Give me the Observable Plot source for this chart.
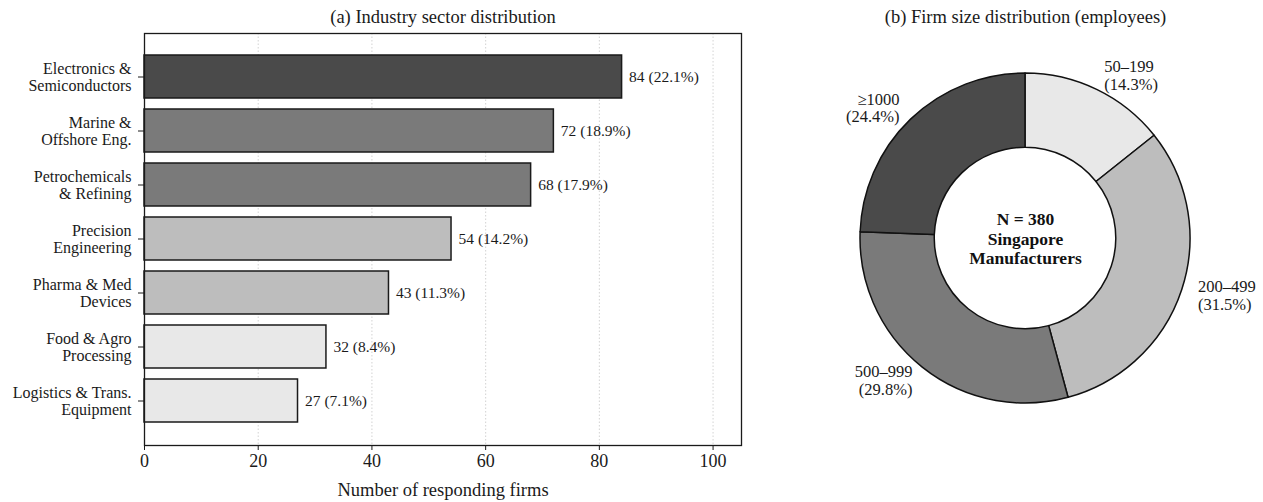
<!DOCTYPE html>
<html>
<head>
<meta charset="utf-8">
<script src="https://cdn.jsdelivr.net/npm/d3@7"></script>
<script src="https://cdn.jsdelivr.net/npm/@observablehq/plot@0.6"></script>
<style>
  body { margin: 0; background: #fff; }
  #chart { display: flex; width: 1263px; height: 502px; font-family: "Liberation Serif", serif; }
</style>
</head>
<body>
<div id="chart"></div>
<script>
// Survey respondents by industry sector
const sectors = [
  "Electronics &\nSemiconductors",
  "Marine &\nOffshore Eng.",
  "Petrochemicals\n& Refining",
  "Precision\nEngineering",
  "Pharma & Med\nDevices",
  "Food & Agro\nProcessing",
  "Logistics & Trans.\nEquipment"
];
const sectorCounts = [84, 72, 68, 54, 43, 32, 27];
const totalFirms = 380;
const xTicks = [0, 20, 40, 60, 80, 100];

// Respondents by firm size (share of firms, %)
const sizeBands = ["50–199", "200–499", "500–999", "≥1000"];
const sizeShares = [14.3, 31.5, 29.8, 24.4];

// Grey shades
const sectorFills = ["#4a4a4a", "#7a7a7a", "#7a7a7a", "#bdbdbd", "#bdbdbd", "#e8e8e8", "#e8e8e8"];
const sizeFills = ["#e8e8e8", "#bdbdbd", "#7a7a7a", "#4a4a4a"];

const serif = '"Liberation Serif", "Times New Roman", serif';

// ---- (a) horizontal bars ----
const sectorRows = sectors.map((s, i) => ({
  sector: s,
  count: sectorCounts[i],
  fill: sectorFills[i],
  label: `${sectorCounts[i]} (${(sectorCounts[i] / totalFirms * 100).toFixed(1)}%)`
}));

const barChart = Plot.plot({
  width: 780,
  height: 502,
  marginLeft: 144,
  marginRight: 39,
  marginTop: 33,
  marginBottom: 57,
  style: { fontFamily: serif, fontSize: "15px", color: "#1a1a1a", background: "#fff" },
  x: { domain: [0, 105] },
  y: { domain: sectors, paddingInner: 0.2, paddingOuter: 0.35 },
  color: { type: "identity" },
  marks: [
    Plot.gridX(xTicks.filter(t => t > 0), { stroke: "#c8c8c8", strokeOpacity: 1, strokeWidth: 0.8, strokeDasharray: "1.5,2" }),
    Plot.barX(sectorRows, { x: "count", y: "sector", fill: "fill", stroke: "#1a1a1a", strokeWidth: 1.5 }),
    Plot.text(sectorRows, { x: "count", y: "sector", text: "label", dx: 7, textAnchor: "start", fontSize: 15.5, fill: "#1a1a1a" }),
    Plot.axisX(xTicks, { tickSize: 5, tickPadding: 4, fontSize: 18, label: null }),
    Plot.axisY({ tickSize: 6, tickPadding: 7, fontSize: 16, lineHeight: 1.06, label: null }),
    Plot.frame({ stroke: "#1a1a1a", strokeWidth: 1.3 }),
    Plot.text(["Number of responding firms"], { frameAnchor: "bottom", dy: 45, lineAnchor: "middle", fontSize: 18.5, fill: "#1a1a1a" }),
    Plot.text(["(a) Industry sector distribution"], { frameAnchor: "top", dy: -16, lineAnchor: "middle", fontSize: 18.5, fill: "#1a1a1a" })
  ]
});

// ---- (b) donut ----
const sizeRows = sizeBands.map((b, i) => ({ band: b, share: sizeShares[i], fill: sizeFills[i] }));
const slices = d3.pie().sort(null).value(d => d.share)(sizeRows);
const sliceLabels = slices.map(a => {
  const mid = (a.startAngle + a.endAngle) / 2;
  return { x: 1.1 * Math.sin(mid), y: 1.1 * Math.cos(mid), text: `${a.data.band}\n(${a.data.share.toFixed(1)}%)` };
});

const ring = 165;   // outer radius in px
const donutChart = Plot.plot({
  width: 483,
  height: 502,
  margin: 0,
  style: { fontFamily: serif, fontSize: "15px", color: "#1a1a1a", background: "#fff" },
  x: { domain: [-245 / ring, 238 / ring], axis: null },
  y: { domain: [-264 / ring, 238 / ring], axis: null },
  marks: [
    (index, scales) => {
      const cx = scales.x(0), cy = scales.y(0);
      const r = scales.x(1) - scales.x(0);
      const arc = d3.arc().innerRadius(r * 0.55).outerRadius(r);
      const g = d3.create("svg:g").attr("transform", `translate(${cx},${cy})`);
      g.selectAll("path").data(slices).join("path")
        .attr("d", arc)
        .attr("fill", d => d.data.fill)
        .attr("stroke", "#111")
        .attr("stroke-width", 1.5)
        .attr("stroke-linejoin", "round");
      return g.node();
    },
    Plot.text(sliceLabels.filter(d => d.x >= 0), { x: "x", y: "y", text: "text", textAnchor: "start", lineAnchor: "middle", lineHeight: 1.08, fontSize: 16.5, fill: "#1a1a1a" }),
    Plot.text(sliceLabels.filter(d => d.x < 0), { x: "x", y: "y", text: "text", textAnchor: "end", lineAnchor: "middle", lineHeight: 1.08, fontSize: 16.5, fill: "#1a1a1a" }),
    Plot.text([{ x: 0, y: 0, t: `N = ${totalFirms}\nSingapore\nManufacturers` }], { x: "x", y: "y", text: "t", fontWeight: "bold", fontSize: 17.5, lineHeight: 1.1, lineAnchor: "middle", fill: "#111" }),
    Plot.text([{ x: 0, t: "(b) Firm size distribution (employees)" }], { x: "x", text: "t", frameAnchor: "top", dy: 17, lineAnchor: "middle", fontSize: 18.5, fill: "#1a1a1a" })
  ]
});

const chart = document.getElementById("chart");
chart.append(barChart, donutChart);
</script>
</body>
</html>
